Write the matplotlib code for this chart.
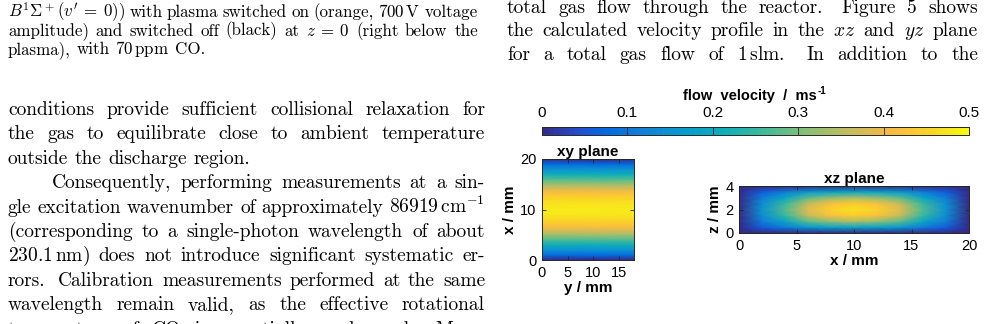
import numpy as np
import matplotlib
matplotlib.use('Agg')
import matplotlib.pyplot as plt
from matplotlib.colors import LinearSegmentedColormap, Normalize
from matplotlib.cm import ScalarMappable

plt.rcParams['mathtext.fontset'] = 'cm'

# ---- data ----
# xy plane: velocity only changes along x (vertical axis), y spans 0..18 mm
x_mm = [0, 1, 2, 3, 4, 5, 6, 7, 8, 9, 10, 11, 12, 13, 14, 15, 16, 17, 18, 19, 20]
v_xy = [0.0, 0.08, 0.15, 0.21, 0.27, 0.33, 0.39, 0.43, 0.46, 0.475, 0.48,
        0.475, 0.46, 0.43, 0.39, 0.33, 0.27, 0.21, 0.15, 0.08, 0.0]
y_span = [0, 18]

# xz plane grid
xz_x = [0, 2, 4, 6, 8, 10, 12, 14, 16, 18, 20]
xz_z = [0, 0.5, 1, 1.5, 2, 2.5, 3, 3.5, 4]
v_xz = [
    [0, 0, 0, 0, 0, 0, 0, 0, 0, 0, 0],
    [0, 0.06, 0.11, 0.16, 0.18, 0.19, 0.18, 0.16, 0.11, 0.06, 0],
    [0, 0.11, 0.19, 0.28, 0.32, 0.34, 0.32, 0.28, 0.19, 0.11, 0],
    [0, 0.14, 0.25, 0.36, 0.42, 0.44, 0.42, 0.36, 0.25, 0.14, 0],
    [0, 0.15, 0.27, 0.39, 0.45, 0.47, 0.45, 0.39, 0.27, 0.15, 0],
    [0, 0.14, 0.25, 0.36, 0.42, 0.44, 0.42, 0.36, 0.25, 0.14, 0],
    [0, 0.11, 0.19, 0.28, 0.32, 0.34, 0.32, 0.28, 0.19, 0.11, 0],
    [0, 0.06, 0.11, 0.16, 0.18, 0.19, 0.18, 0.16, 0.11, 0.06, 0],
    [0, 0, 0, 0, 0, 0, 0, 0, 0, 0, 0],
]

cbar_ticks = [0, 0.1, 0.2, 0.3, 0.4, 0.5]
cbar_labels = ['0', '0.1', '0.2', '0.3', '0.4', '0.5']
xy_xticks = [0, 5, 10, 15]
xy_yticks = [0, 10, 20]
xz_xticks = [0, 5, 10, 15, 20]
xz_yticks = [0, 2, 4]

# page text around the figure
caption_lines = [
    [r"$B^1\Sigma^+(v^\prime\:=\:0)$)", "with", "plasma", "switched", "on",
     "(orange,", r"700$\,$V", "voltage"],
    ["amplitude)", "and", "switched", "off", "(black)", "at", r"$z\:=\:0$",
     "(right", "below", "the"],
    ["plasma),", "with", r"70$\,$ppm", "CO."],
]
left_lines = [
    "conditions provide sufficient collisional relaxation for",
    "the gas to equilibrate close to ambient temperature",
    "outside the discharge region.",
    "Consequently, performing measurements at a sin-",
    r"gle excitation wavenumber of approximately 86919$\,$cm$^{-1}$",
    "(corresponding to a single-photon wavelength of about",
    r"230.1$\,$nm) does not introduce significant systematic er-",
    "rors. Calibration measurements performed at the same",
    "wavelength remain valid, as the effective rotational",
    "temperature of CO is essentially unchanged. More-",
]
right_lines = [
    "total gas flow through the reactor. Figure 5 shows",
    r"the calculated velocity profile in the $xz$ and $yz$ plane",
    r"for a total gas flow of 1$\,$slm. In addition to the",
]

# parula-like colormap (MATLAB default)
parula_pos = [0, 6, 9, 15, 21, 27, 33, 39, 45, 51, 54, 58, 63]
parula_rgb = [
    (0.2081, 0.1663, 0.5292), (0.1253, 0.3242, 0.8303), (0.0060, 0.4086, 0.8828),
    (0.0779, 0.5040, 0.8384), (0.0265, 0.6137, 0.8135), (0.0590, 0.6838, 0.7254),
    (0.2586, 0.7317, 0.5954), (0.5300, 0.7491, 0.4661), (0.7525, 0.7384, 0.3768),
    (0.9450, 0.7261, 0.2886), (0.9990, 0.7653, 0.2164), (0.9697, 0.8481, 0.1475),
    (0.9763, 0.9831, 0.0538),
]
parula = LinearSegmentedColormap.from_list(
    'parula', [(p / 63, c) for p, c in zip(parula_pos, parula_rgb)])

W, H = 985, 324
fig = plt.figure(figsize=(W / 100, H / 100), dpi=100)
renderer = fig.canvas.get_renderer()


def text_line(words, x0, x1, base, size, justify=True, indent=0):
    items = [fig.text(0, 0, w, fontsize=size, family='cmr10',
                      va='baseline', ha='left') for w in words]
    widths = [t.get_window_extent(renderer).width for t in items]
    weights = [1.6 if w.endswith('.') else 1.0 for w in words[:-1]]
    start = x0 + indent
    if justify and len(words) > 1:
        unit = (x1 - start - sum(widths)) / sum(weights)
    else:
        unit = size * 100 / 72 * 0.333
    x = start
    for i, t in enumerate(items):
        t.set_position((x / W, 1 - base / H))
        x += widths[i]
        if i < len(weights):
            x += unit * weights[i]


for i, words in enumerate(caption_lines):
    text_line(words, 8, 478, 17 + 18.5 * i, 12.2, justify=(i < 2))

for i, line in enumerate(left_lines):
    text_line(line.split(' '), 8, 485, 115 + 24.4 * i, 14,
              justify=(i != 2), indent=(44 if i == 3 else 0))

for i, line in enumerate(right_lines):
    text_line(line.split(' '), 507, 978, 13 + 23.5 * i, 14)

# ---- figure ----
sans = 'Liberation Sans'
dark = '#262626'
norm = Normalize(0, 0.5)


def px_axes(x0, y0, x1, y1):
    return fig.add_axes([x0 / W, 1 - y1 / H, (x1 - x0) / W, (y1 - y0) / H])


def style(ax):
    for s in ax.spines.values():
        s.set_linewidth(0.7)
        s.set_color(dark)
    ax.tick_params(direction='in', length=3, width=0.6, color=dark,
                   top=True, right=True, labelsize=10.5, pad=4)
    for lab in ax.get_xticklabels() + ax.get_yticklabels():
        lab.set_family(sans)


ax1 = px_axes(542, 159, 634, 260)
Yg, Xg = np.meshgrid(y_span, x_mm)
ax1.pcolormesh(Yg, Xg, np.array(v_xy)[:, None].repeat(2, axis=1),
               cmap=parula, norm=norm, shading='gouraud')
ax1.set_xlim(0, 18)
ax1.set_ylim(0, 20)
ax1.set_xticks(xy_xticks)
ax1.set_yticks(xy_yticks)
style(ax1)
ax1.set_title('xy plane', family=sans, fontsize=11, fontweight='bold', pad=2)
ax1.set_xlabel('y / mm', family=sans, fontsize=11, fontweight='bold', labelpad=1)
ax1.set_ylabel('x / mm', family=sans, fontsize=11, fontweight='bold', labelpad=2)

ax2 = px_axes(739, 186, 969, 233)
Xz, Zz = np.meshgrid(xz_x, xz_z)
ax2.pcolormesh(Xz, Zz, np.array(v_xz), cmap=parula, norm=norm, shading='gouraud')
ax2.set_xlim(0, 20)
ax2.set_ylim(0, 4)
ax2.set_xticks(xz_xticks)
ax2.set_yticks(xz_yticks)
style(ax2)
ax2.set_title('xz plane', family=sans, fontsize=11, fontweight='bold', pad=2)
ax2.set_xlabel('x / mm', family=sans, fontsize=11, fontweight='bold', labelpad=1)
ax2.set_ylabel('z / mm', family=sans, fontsize=11, fontweight='bold', labelpad=2)

cax = px_axes(542, 127, 969, 135)
cb = fig.colorbar(ScalarMappable(norm=norm, cmap=parula), cax=cax,
                  orientation='horizontal', ticklocation='top')
cb.set_ticks(cbar_ticks)
cb.set_ticklabels(cbar_labels)
cb.outline.set_linewidth(0.7)
cb.outline.set_edgecolor(dark)
cax.tick_params(axis='x', direction='in', length=3, width=0.6, color=dark,
                top=True, bottom=True, labeltop=True, labelbottom=False,
                labelsize=11, pad=5)
for lab in cax.get_xticklabels():
    lab.set_family(sans)

ttl = fig.text(750 / W, 1 - 100 / H, 'flow  velocity  /  ms', family=sans,
               fontsize=10.5, fontweight='bold', ha='center', va='baseline')
bb = ttl.get_window_extent(renderer)
fig.text((bb.x1 + 1) / W, 1 - 94 / H, '-1', family=sans, fontsize=7,
         fontweight='bold', ha='left', va='baseline')

fig.savefig('out.png', dpi=100)
